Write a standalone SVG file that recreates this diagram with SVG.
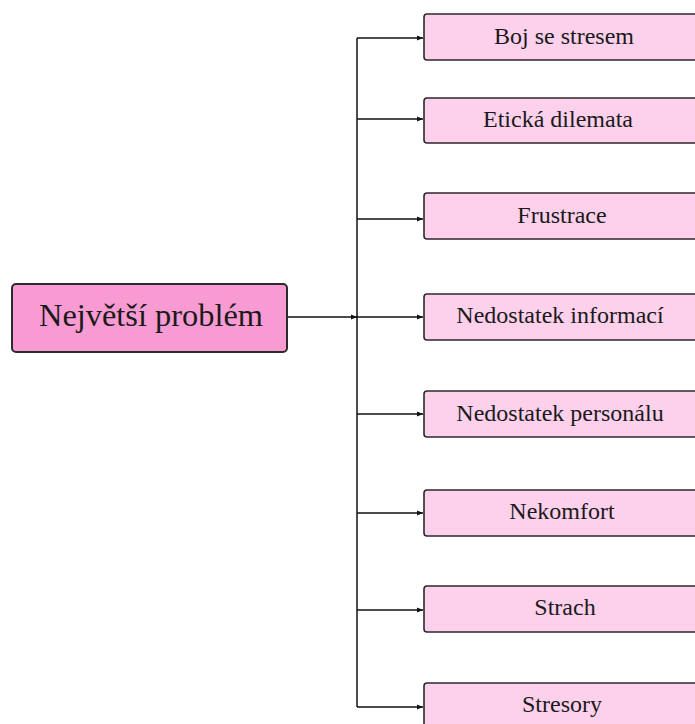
<svg xmlns="http://www.w3.org/2000/svg" width="695" height="724" viewBox="0 0 695 724">
<defs>
<style>
.main{fill:#f99bd3;stroke:#2a2a2a;stroke-width:2}
.child{fill:#fdd0ec;stroke:#2a2a2a;stroke-width:1.6}
.t{font-family:"Liberation Serif","Times New Roman",serif;fill:#1a1a1a;text-anchor:middle}
.tm{font-size:32px}
.tc{font-size:24px}
.ln{stroke:#111;stroke-width:1.5;fill:none}
</style>
<marker id="ah" viewBox="0 0 10 10" refX="10" refY="5" markerWidth="6" markerHeight="6" orient="auto" markerUnits="userSpaceOnUse">
<path d="M0,1 L10,5 L0,9 z" fill="#111"/>
</marker>
</defs>
<rect width="695" height="724" fill="#fff"/>
<g id="connectors">
<line class="ln" x1="357" y1="38" x2="357" y2="707"/>
<line class="ln" x1="287" y1="317" x2="357" y2="317" marker-end="url(#ah)"/>
<line class="ln" x1="357" y1="38" x2="423" y2="38" marker-end="url(#ah)"/>
<line class="ln" x1="357" y1="119" x2="423" y2="119" marker-end="url(#ah)"/>
<line class="ln" x1="357" y1="219" x2="423" y2="219" marker-end="url(#ah)"/>
<line class="ln" x1="357" y1="317" x2="423" y2="317" marker-end="url(#ah)"/>
<line class="ln" x1="357" y1="414" x2="423" y2="414" marker-end="url(#ah)"/>
<line class="ln" x1="357" y1="513" x2="423" y2="513" marker-end="url(#ah)"/>
<line class="ln" x1="357" y1="610" x2="423" y2="610" marker-end="url(#ah)"/>
<line class="ln" x1="357" y1="707" x2="423" y2="707" marker-end="url(#ah)"/>
</g>
<g id="n-main">
<rect class="main" x="12" y="284" width="275" height="68" rx="4"/>
<text class="t tm" x="151" y="326" textLength="224" lengthAdjust="spacingAndGlyphs">Největší problém</text>
</g>
<g id="n-boj">
<rect class="child" x="424" y="14" width="280" height="46" rx="3"/>
<text class="t tc" x="564" y="44">Boj se stresem</text>
</g>
<g id="n-eticka">
<rect class="child" x="424" y="98" width="280" height="45" rx="3"/>
<text class="t tc" x="558" y="127">Etická dilemata</text>
</g>
<g id="n-frustrace">
<rect class="child" x="424" y="193" width="280" height="46" rx="3"/>
<text class="t tc" x="562" y="223">Frustrace</text>
</g>
<g id="n-informaci">
<rect class="child" x="424" y="294" width="280" height="46" rx="3"/>
<text class="t tc" x="560" y="323">Nedostatek informací</text>
</g>
<g id="n-personalu">
<rect class="child" x="424" y="391" width="280" height="46" rx="3"/>
<text class="t tc" x="560" y="421">Nedostatek personálu</text>
</g>
<g id="n-nekomfort">
<rect class="child" x="424" y="490" width="280" height="46" rx="3"/>
<text class="t tc" x="562" y="519">Nekomfort</text>
</g>
<g id="n-strach">
<rect class="child" x="424" y="586" width="280" height="46" rx="3"/>
<text class="t tc" x="565" y="615">Strach</text>
</g>
<g id="n-stresory">
<rect class="child" x="424" y="683" width="280" height="50" rx="3"/>
<text class="t tc" x="562" y="712">Stresory</text>
</g>
</svg>
